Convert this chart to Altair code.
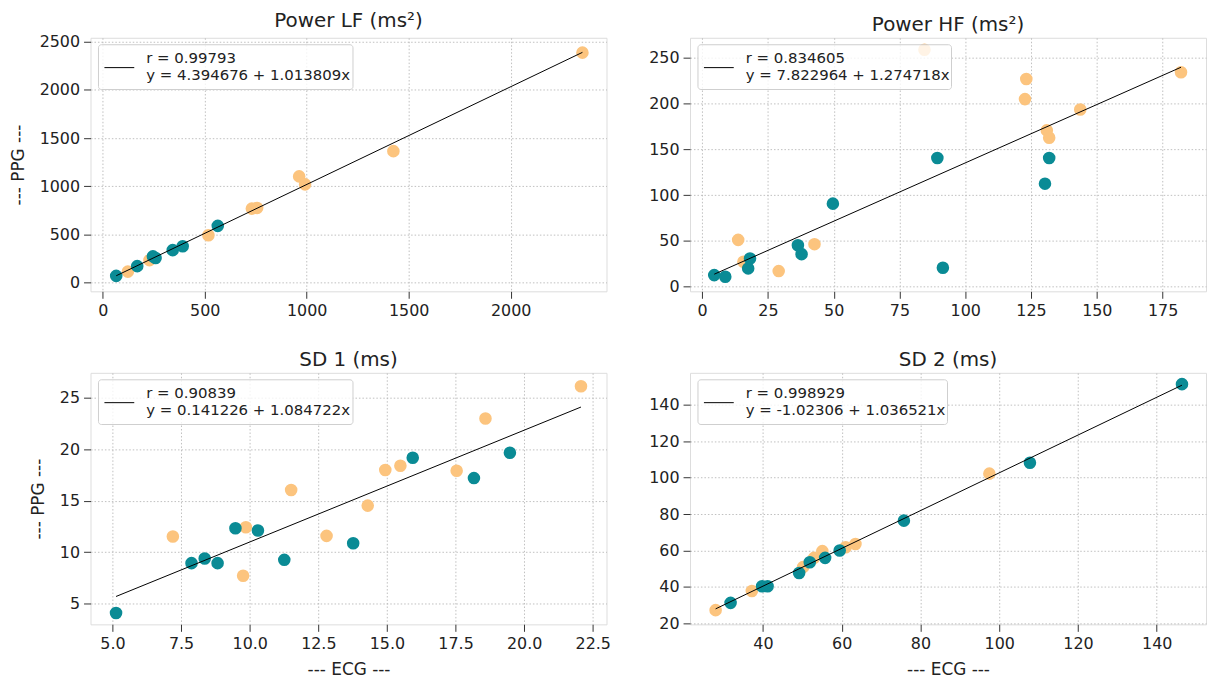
import altair as alt
import pandas as pd

# ---------------- data ----------------
titles = ["Power LF (ms²)", "Power HF (ms²)", "SD 1 (ms)", "SD 2 (ms)"]

lf_teal_ecg = [66, 169, 246, 259, 343, 392, 564]
lf_teal_ppg = [70, 171, 272, 256, 337, 378, 589]
lf_orange_ecg = [123, 229, 518, 731, 757, 963, 992, 1425, 2352]
lf_orange_ppg = [114, 233, 492, 768, 775, 1102, 1019, 1364, 2386]

hf_teal_ecg = [4.6, 8.8, 17.5, 18.2, 36.4, 37.8, 49.7, 89.4, 91.5, 130.3, 131.9]
hf_teal_ppg = [12.7, 10.9, 20.0, 30.9, 45.4, 35.6, 90.8, 140.6, 20.7, 112.6, 140.6]
hf_orange_ecg = [84.5, 123.2, 122.7, 143.7, 131.0, 131.9, 182.0, 13.7, 42.7, 29.1, 15.7]
hf_orange_ppg = [259.0, 227.0, 205.0, 193.7, 170.8, 162.8, 234.4, 51.2, 46.5, 17.1, 27.3]

sd1_teal_ecg = [5.13, 7.88, 8.36, 8.83, 9.48, 10.3, 11.26, 13.77, 15.94, 18.17, 19.48]
sd1_teal_ppg = [4.1, 8.94, 9.39, 8.94, 12.32, 12.1, 9.26, 10.87, 19.16, 17.19, 19.65]
sd1_orange_ecg = [7.2, 9.76, 9.86, 11.51, 12.8, 14.3, 14.94, 15.49, 17.54, 18.59, 22.07]
sd1_orange_ppg = [11.52, 7.71, 12.42, 16.03, 11.58, 14.52, 17.97, 18.39, 17.9, 22.97, 26.1]

sd2_teal_ecg = [146.4, 107.8, 75.8, 59.5, 55.8, 51.9, 49.2, 41.2, 39.8, 31.8]
sd2_teal_ppg = [151.3, 108.2, 76.4, 60.0, 56.0, 53.6, 47.7, 40.4, 40.4, 31.3]
sd2_orange_ecg = [28.0, 37.2, 50.2, 53.0, 55.1, 61.0, 63.5, 97.5]
sd2_orange_ppg = [27.3, 37.8, 50.9, 56.0, 59.7, 61.8, 63.6, 102.2]

r_values = ["0.99793", "0.834605", "0.90839", "0.998929"]
intercepts = [4.394676, 7.822964, 0.141226, -1.02306]
slopes = [1.013809, 1.274718, 1.084722, 1.036521]

x_ticks = [
    [0, 500, 1000, 1500, 2000],
    [0, 25, 50, 75, 100, 125, 150, 175],
    [5.0, 7.5, 10.0, 12.5, 15.0, 17.5, 20.0, 22.5],
    [40, 60, 80, 100, 120, 140],
]
y_ticks = [
    [0, 500, 1000, 1500, 2000, 2500],
    [0, 50, 100, 150, 200, 250],
    [5, 10, 15, 20, 25],
    [20, 40, 60, 80, 100, 120, 140],
]
x_domains = [[-60, 2470], [-4.6, 191.5], [4.2, 23.0], [21.5, 152.5]]
y_domains = [[-90, 2540], [-5, 272], [3.0, 27.4], [19.5, 157.5]]
legend_widths = [256, 255, 256, 251]
x_formats = ["d", "d", ".1f", "d"]

panels = [
    (lf_teal_ecg, lf_teal_ppg, lf_orange_ecg, lf_orange_ppg),
    (hf_teal_ecg, hf_teal_ppg, hf_orange_ecg, hf_orange_ppg),
    (sd1_teal_ecg, sd1_teal_ppg, sd1_orange_ecg, sd1_orange_ppg),
    (sd2_teal_ecg, sd2_teal_ppg, sd2_orange_ecg, sd2_orange_ppg),
]

TEAL = "#0a8b95"
ORANGE = "#fcc47e"
FONT = "DejaVu Sans"
W = 519


def panel(i):
    te, tp, oe, op = panels[i]
    h = 255 if i < 2 else 253
    df = pd.DataFrame(
        {"ecg": oe + te, "ppg": op + tp,
         "grp": ["o"] * len(oe) + ["t"] * len(te)}
    )
    xmin = min(oe + te)
    xmax = max(oe + te)
    line_df = pd.DataFrame(
        {"ecg": [xmin, xmax],
         "ppg": [intercepts[i] + slopes[i] * xmin, intercepts[i] + slopes[i] * xmax]}
    )
    bottom = i >= 2
    left = i % 2 == 0
    xaxis = alt.Axis(
        values=x_ticks[i], format=x_formats[i],
        title="--- ECG ---" if bottom else None,
        grid=True, gridDash=[1.5, 2], gridColor="#b8b8b8", gridWidth=0.9,
        domain=False, tickSize=7, tickColor="#333", labelPadding=4,
        labelFontSize=16, labelFont=FONT, labelColor="#222",
        titleFont=FONT, titleFontSize=17, titleFontWeight="normal",
        titleColor="#222", titlePadding=10,
    )
    yaxis = alt.Axis(
        values=y_ticks[i], format="d",
        title="--- PPG ---" if left else None,
        grid=True, gridDash=[1.5, 2], gridColor="#b8b8b8", gridWidth=0.9,
        domain=False, tickSize=7, tickColor="#333", labelPadding=4,
        labelFontSize=16, labelFont=FONT, labelColor="#222",
        titleFont=FONT, titleFontSize=17, titleFontWeight="normal",
        titleColor="#222", titlePadding=12,
    )
    xs = alt.Scale(domain=x_domains[i], nice=False, zero=False)
    ys = alt.Scale(domain=y_domains[i], nice=False, zero=False)

    pts = alt.Chart(df).mark_circle(size=160, opacity=1).encode(
        x=alt.X("ecg:Q", scale=xs, axis=xaxis),
        y=alt.Y("ppg:Q", scale=ys, axis=yaxis),
        color=alt.Color("grp:N", scale=alt.Scale(domain=["o", "t"], range=[ORANGE, TEAL]), legend=None),
        order=alt.Order("grp:N"),
    )
    reg = alt.Chart(line_df).mark_line(color="black", strokeWidth=1).encode(
        x="ecg:Q", y="ppg:Q"
    )
    one = pd.DataFrame({"k": [0]})
    box = alt.Chart(one).mark_rect(
        fill="white", fillOpacity=0.8, stroke="#cfcfcf", strokeWidth=1, cornerRadius=3
    ).encode(x=alt.value(8), x2=alt.value(8 + legend_widths[i]), y=alt.value(7), y2=alt.value(52))
    sample = alt.Chart(one).mark_rule(color="black", strokeWidth=1).encode(
        x=alt.value(14), x2=alt.value(44), y=alt.value(30)
    )
    t1 = alt.Chart(one).mark_text(
        align="left", baseline="alphabetic", font=FONT, fontSize=15, color="#222"
    ).encode(x=alt.value(56), y=alt.value(25), text=alt.value("r = " + r_values[i]))
    eq = "y = " + repr(intercepts[i]) + " + " + repr(slopes[i]) + "x"
    t2 = alt.Chart(one).mark_text(
        align="left", baseline="alphabetic", font=FONT, fontSize=15, color="#222"
    ).encode(x=alt.value(56), y=alt.value(42), text=alt.value(eq))

    return alt.layer(pts, reg, box, sample, t1, t2).properties(
        width=W, height=h,
        title=alt.TitleParams(titles[i], font=FONT, fontSize=20, fontWeight="normal",
                              color="#222", offset=3, anchor="middle"),
    )


chart = alt.concat(
    *[panel(i) for i in range(4)],
    columns=2,
    spacing={"row": 82, "column": 84},
    bounds="flush",
).properties(
    padding={"left": 0, "top": 0, "right": 0, "bottom": 0}
).configure_view(
    stroke="#2a2a2a", strokeWidth=1.2
).configure(background="white")

chart.save("out.html", embed_options={"renderer": "svg", "actions": False})
